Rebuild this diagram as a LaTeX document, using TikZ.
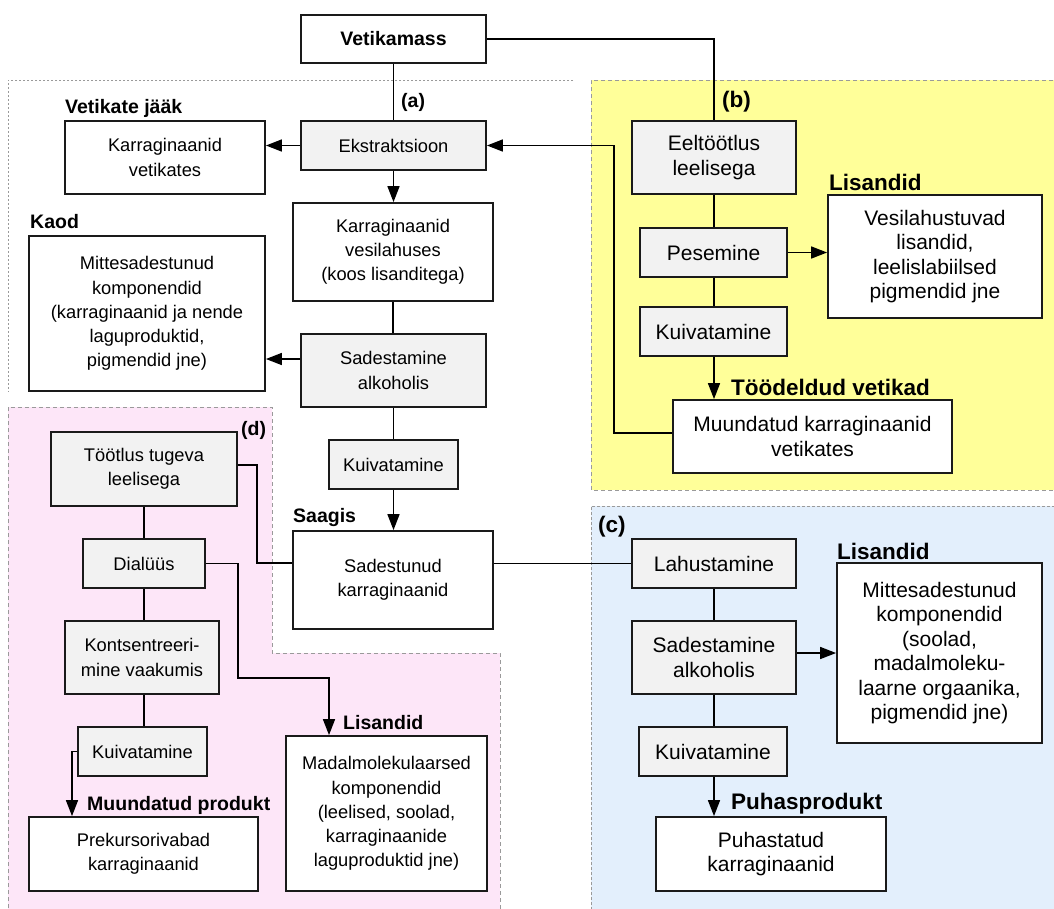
\documentclass[tikz,border=0pt]{standalone}
\usepackage{fontspec}
\setmainfont{Liberation Sans}
\usetikzlibrary{arrows.meta}
\definecolor{procgray}{HTML}{F2F2F2}
\definecolor{ylw}{HTML}{FFFF99}
\definecolor{pnk}{HTML}{FDE6F8}
\definecolor{blu}{HTML}{E3EFFC}
\definecolor{edgec}{HTML}{1A1A1A}
\definecolor{regc}{HTML}{9A9A9A}
\tikzset{
 box/.style={draw=edgec, line width=1.8pt, fill=white, inner sep=0pt, align=center},
 proc/.style={box, fill=procgray},
 fL/.style={font=\fontsize{18.3}{24.2}\selectfont},
 fR/.style={font=\fontsize{21}{24.4}\selectfont},
 lblL/.style={font=\fontsize{19.5}{22}\selectfont\bfseries, anchor=west, inner sep=0pt},
 lblR/.style={font=\fontsize{22.5}{25}\selectfont\bfseries, anchor=west, inner sep=0pt},
 conn/.style={draw=black, line width=1.6pt},
 arr/.style={conn, -{Triangle[length=16pt,width=12pt]}},
 region/.style={draw=regc, line width=1pt, dash pattern=on 4pt off 3pt},
}
\begin{document}
\begin{tikzpicture}[x=1pt,y=-1pt]
\useasboundingbox (0,0) rectangle (1054,908);
% regions
\path[fill=ylw] (591,80) rectangle (1060,490);
\draw[region] (1060,80) -- (591,80) -- (591,490) -- (1060,490);
\path[fill=blu] (591,506) rectangle (1060,915);
\draw[region, dash pattern=on 3pt off 2pt] (1060,506) -- (591,506) -- (591,915);
\path[fill=pnk] (8,407) -- (272,407) -- (272,653) -- (500,653) -- (500,915) -- (8,915) -- cycle;
\draw[region] (8,915) -- (8,407) -- (272,407) -- (272,653) -- (500,653) -- (500,915);
\draw[region, dash pattern=on 2pt off 2pt] (573,80) -- (8,80) -- (8,392);

% nodes left
\node[box,minimum width=185,minimum height=48,font=\fontsize{19.5}{22}\selectfont\bfseries] (vmass) at (393.5,39) {Vetikamass};
\node[proc,fL,minimum width=185,minimum height=49] (ekstr) at (393.5,145.5) {Ekstraktsioon};
\node[box,fL,minimum width=200,minimum height=73] (kv) at (165,157.5) {Karraginaanid\\vetikates};
\node[box,fL,minimum width=200,minimum height=98] (kves) at (393,252) {Karraginaanid\\vesilahuses\\(koos lisanditega)};
\node[box,fL,minimum width=236,minimum height=155] (kaod) at (147,313.5) {Mittesadestunud\\komponendid\\(karraginaanid ja nende\\laguproduktid,\\pigmendid jne)};
\node[proc,fL,minimum width=185,minimum height=73] (sadA) at (393.5,370.5) {Sadestamine\\alkoholis};
\node[proc,fL,minimum width=129,minimum height=49] (kuivA) at (393.5,464.5) {Kuivatamine};
\node[box,fL,minimum width=200,minimum height=98] (sadk) at (393,580) {Sadestunud\\karraginaanid};
\node[proc,fL,minimum width=186,minimum height=74] (tootlus) at (144,469) {Töötlus tugeva\\leelisega};
\node[proc,fL,minimum width=122,minimum height=49] (dial) at (144,563.5) {Dialüüs};
\node[proc,fL,minimum width=154,minimum height=73] (konts) at (142,657.5) {Kontsentreeri-\\mine vaakumis};
\node[proc,fL,minimum width=129,minimum height=49] (kuivD) at (142.5,751.5) {Kuivatamine};
\node[box,fL,minimum width=229,minimum height=74] (prek) at (143.5,854) {Prekursorivabad\\karraginaanid};
\node[box,fL,minimum width=201,minimum height=155] (madal) at (386.5,813.5) {Madalmolekulaarsed\\komponendid\\(leelised, soolad,\\karraginaanide\\laguproduktid jne)};
% nodes right
\node[proc,fR,minimum width=164,minimum height=73] (eel) at (714,157.5) {Eeltöötlus\\leelisega};
\node[proc,fR,minimum width=147,minimum height=49] (pes) at (713.5,252.5) {Pesemine};
\node[proc,fR,minimum width=147,minimum height=49] (kuivB) at (713.5,331.5) {Kuivatamine};
\node[box,fR,minimum width=214,minimum height=123] (vesi) at (935,256.5) {Vesilahustuvad\\lisandid,\\leelislabiilsed\\pigmendid jne};
\node[box,fR,minimum width=279,minimum height=73] (muund) at (812.5,436.5) {Muundatud karraginaanid\\vetikates};
\node[proc,fR,minimum width=164,minimum height=49] (lah) at (714,563.5) {Lahustamine};
\node[proc,fR,minimum width=164,minimum height=73] (sadC) at (714,657.5) {Sadestamine\\alkoholis};
\node[proc,fR,minimum width=148,minimum height=49] (kuivC) at (713,751.5) {Kuivatamine};
\node[box,fR,minimum width=205,minimum height=180] (mitC) at (939.5,653) {Mittesadestunud\\komponendid\\(soolad,\\madalmoleku-\\laarne orgaanika,\\pigmendid jne)};
\node[box,fR,minimum width=230,minimum height=74] (puh) at (771,854) {Puhastatud\\karraginaanid};

% labels
\node[lblL] (la) at (401,102) {(a)};
\node[lblL] (lvj) at (65,108) {Vetikate jääk};
\node[lblL] (lkaod) at (30,222) {Kaod};
\node[lblL] (lsaag) at (293,517) {Saagis};
\node[lblL] (ld) at (241,430) {(d)};
\node[lblL] (lmp) at (87,805) {Muundatud produkt};
\node[lblL] (llisd) at (343,723) {Lisandid};
\node[lblR] (lb) at (722,102) {(b)};
\node[lblR] (llisb) at (829,182) {Lisandid};
\node[lblR] (ltv) at (731,387) {Töödeldud vetikad};
\node[lblR] (lc) at (598,527) {(c)};
\node[lblR] (llisc) at (837,551) {Lisandid};
\node[lblR] (lpuh) at (731,804) {Puhasprodukt};

% connectors
\draw[conn] (vmass.south) -- (ekstr.north);
\draw[conn] (vmass.east) -| (eel.north);
\draw[arr] (ekstr.west) -- (ekstr.west -| kv.east);
\draw[arr] (ekstr.south) -- (ekstr.south |- kves.north);
\draw[conn] (kves.south |- kves.south) -- (kves.south |- sadA.north);
\draw[arr] ([yshift=11.5]sadA.west) -- ([yshift=11.5]sadA.west -| kaod.east);
\draw[conn] (sadA.south) -- (sadA.south |- kuivA.north);
\draw[arr] (kuivA.south) -- (kuivA.south |- sadk.north);
\draw[conn] ([yshift=17]sadk.west) -- ++(-35,0) |- ([yshift=4]tootlus.east);
\draw[conn] (lah.west -| sadk.east) -- (lah.west);
\draw[conn] (tootlus.south) -- (tootlus.south |- dial.north);
\draw[conn] (dial.south) -- (dial.south |- konts.north);
\draw[conn] (dial.south |- konts.south) -- (dial.south |- kuivD.north);
\draw[arr] (dial.east) -- ++(32,0) -- ++(0,114.5) -| ([xshift=-57.5]madal.north);
\draw[arr] (kuivD.west) -| ([xshift=-71.5]prek.north);
\draw[conn] (eel.south) -- (eel.south |- pes.north);
\draw[conn] (eel.south |- pes.south) -- (eel.south |- kuivB.north);
\draw[arr] (eel.south |- kuivB.south) -- (eel.south |- muund.north);
\draw[arr] (pes.east) -- (pes.east -| vesi.west);
\draw[arr] ([yshift=3.5]muund.west) -- ++(-58,0) |- (ekstr.east);
\draw[conn] (lah.south) -- (lah.south |- sadC.north);
\draw[conn] (lah.south |- sadC.south) -- (lah.south |- kuivC.north);
\draw[arr] (lah.south |- kuivC.south) -- (lah.south |- puh.north);
\draw[arr] ([yshift=4.5]sadC.east) -- ([yshift=4.5]sadC.east -| mitC.west);
\end{tikzpicture}
\end{document}
